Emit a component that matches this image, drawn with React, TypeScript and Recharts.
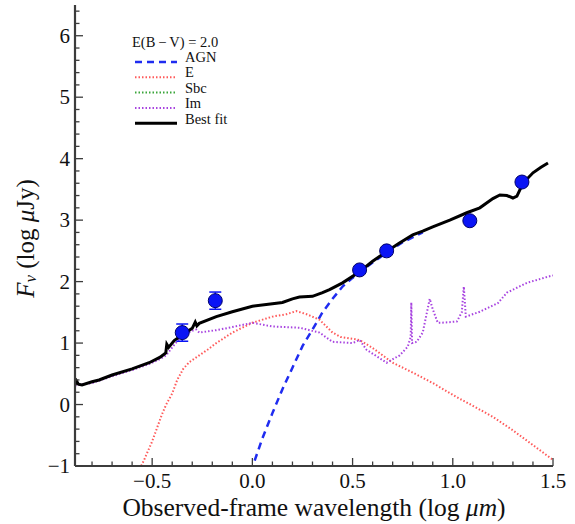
import React from 'react';
import {
  ComposedChart,
  Line,
  Scatter,
  ErrorBar,
  XAxis,
  YAxis,
  Label,
} from 'recharts';

// 观测数据点 [log λ, log Fν, 误差]
const photometry: [number, number, number?][] = [
  [-0.35, 1.17, 0.14],
  [-0.185, 1.69, 0.14],
  [0.535, 2.19],
  [0.67, 2.5],
  [1.085, 2.99],
  [1.345, 3.62],
];

// 各模板曲线 [log λ, log Fν]
const agnCurve: [number, number][] = [
  [-0.005, -1.1], [0.0, -1.02], [0.05, -0.55], [0.1, -0.14], [0.15, 0.25],
  [0.2, 0.6], [0.25, 0.95], [0.3, 1.22], [0.35, 1.5], [0.4, 1.72],
  [0.45, 1.92], [0.5, 2.06], [0.55, 2.19], [0.6, 2.31], [0.67, 2.47],
  [0.75, 2.64], [0.85, 2.8],
];

const eCurve: [number, number][] = [
  [-0.57, -1.1], [-0.54, -0.9], [-0.5, -0.6], [-0.45, -0.15], [-0.43, 0.0],
  [-0.4, 0.18], [-0.375, 0.4], [-0.345, 0.58], [-0.315, 0.69], [-0.265, 0.8],
  [-0.22, 0.9], [-0.18, 1.0], [-0.1, 1.17], [0.0, 1.33], [0.1, 1.43],
  [0.17, 1.47], [0.22, 1.52], [0.27, 1.47], [0.335, 1.38], [0.4, 1.17],
  [0.44, 1.1], [0.535, 1.05], [0.6, 0.92], [0.7, 0.68], [0.8, 0.52],
  [0.9, 0.35], [1.02, 0.12], [1.1, -0.02], [1.2, -0.2], [1.3, -0.42],
  [1.4, -0.66], [1.5, -0.9],
];

const imCurve: [number, number][] = [
  [-0.885, 0.31], [-0.8, 0.35], [-0.7, 0.46], [-0.6, 0.56], [-0.515, 0.66],
  [-0.46, 0.74], [-0.43, 0.8], [-0.39, 0.97], [-0.35, 1.12], [-0.3, 1.2],
  [-0.28, 1.22], [-0.265, 1.17], [-0.18, 1.21], [-0.1, 1.26], [0.0, 1.33],
  [0.1, 1.27], [0.235, 1.25], [0.335, 1.17], [0.4, 1.02], [0.5, 1.0],
  [0.535, 1.05], [0.57, 0.89], [0.67, 0.68], [0.735, 0.8], [0.775, 0.94],
  [0.79, 1.1], [0.793, 1.66], [0.797, 1.0], [0.82, 1.02], [0.85, 1.17],
  [0.885, 1.72], [0.9, 1.55], [0.925, 1.33], [0.94, 1.33], [1.02, 1.35],
  [1.045, 1.5], [1.055, 1.92], [1.065, 1.43], [1.135, 1.51], [1.225, 1.65],
  [1.27, 1.82], [1.37, 1.98], [1.475, 2.08], [1.5, 2.1],
];

const bestFitCurve: [number, number][] = [
  [-0.885, 0.32], [-0.877, 0.38], [-0.868, 0.33], [-0.85, 0.32], [-0.8, 0.37],
  [-0.765, 0.4], [-0.7, 0.48], [-0.6, 0.58], [-0.515, 0.68], [-0.46, 0.77],
  [-0.432, 0.84], [-0.427, 0.98], [-0.418, 0.93], [-0.39, 1.04], [-0.35, 1.13],
  [-0.3, 1.24], [-0.285, 1.34], [-0.277, 1.28], [-0.265, 1.32], [-0.18, 1.43],
  [-0.1, 1.51], [0.0, 1.6], [0.1, 1.64], [0.15, 1.66], [0.2, 1.72],
  [0.235, 1.75], [0.3, 1.76], [0.35, 1.82], [0.385, 1.87], [0.45, 1.98],
  [0.535, 2.16], [0.6, 2.33], [0.67, 2.49], [0.73, 2.62], [0.8, 2.76],
  [0.85, 2.82], [0.9, 2.89], [0.985, 3.0], [1.07, 3.12], [1.135, 3.2],
  [1.2, 3.35], [1.235, 3.41], [1.27, 3.4], [1.3, 3.36], [1.32, 3.39],
  [1.35, 3.6], [1.4, 3.77], [1.44, 3.86], [1.475, 3.93],
];

// 刻度
const xTicks = [-0.8, -0.7, -0.6, -0.5, -0.4, -0.3, -0.2, -0.1, 0, 0.1, 0.2, 0.3, 0.4,
  0.5, 0.6, 0.7, 0.8, 0.9, 1.0, 1.1, 1.2, 1.3, 1.4, 1.5];
const xMajor = [-0.5, 0, 0.5, 1.0, 1.5];
const yTicks = Array.from({ length: 38 }, (_, i) => Math.round((-1 + i * 0.2) * 10) / 10);
const yMajor = [-1, 0, 1, 2, 3, 4, 5, 6];

const legendTitle = 'E(B\u2009\u2212\u2009V) = 2.0';
const legendItems = [
  { name: 'AGN', color: '#1f2cf0', dash: '7 5', width: 2.5 },
  { name: 'E', color: '#ff5a5a', dash: '1.5 2', width: 2 },
  { name: 'Sbc', color: '#3aa53a', dash: '1.5 2', width: 2 },
  { name: 'Im', color: '#a844e0', dash: '1.5 2', width: 2 },
  { name: 'Best fit', color: '#000000', dash: undefined, width: 3 },
];

const toPts = (arr: [number, number][]) => arr.map(([x, y]) => ({ x, y }));

const FONT = '"Liberation Serif", "DejaVu Serif", serif';
const AXIS = '#3c3c3c';

const isIn = (v: number, list: number[]) => list.some((m) => Math.abs(m - v) < 1e-6);
const fmtNum = (v: number, digits: number) => {
  const s = Math.abs(v).toFixed(digits);
  return v < -1e-9 ? '\u2212' + s : s;
};

const BottomTick = (props: any) => {
  const { x, y, payload } = props;
  const major = isIn(payload.value, xMajor);
  return (
    <g>
      <line x1={x} x2={x} y1={y} y2={y - (major ? 8 : 4.5)} stroke={AXIS} strokeWidth={1.3} />
      {major && (
        <text x={x} y={y + 15} textAnchor="middle" dominantBaseline="central"
          fontFamily={FONT} fontSize={21} fill="#111">
          {fmtNum(payload.value, 1)}
        </text>
      )}
    </g>
  );
};

const TopTick = (props: any) => {
  const { x, y, payload } = props;
  const major = isIn(payload.value, xMajor);
  return <line x1={x} x2={x} y1={y} y2={y + (major ? 8 : 4.5)} stroke={AXIS} strokeWidth={1.3} />;
};

const LeftTick = (props: any) => {
  const { x, y, payload } = props;
  const major = isIn(payload.value, yMajor);
  return (
    <g>
      <line x1={x} x2={x + (major ? 8 : 4.5)} y1={y} y2={y} stroke={AXIS} strokeWidth={1.3} />
      {major && (
        <text x={x - 5} y={y} textAnchor="end" dominantBaseline="central"
          fontFamily={FONT} fontSize={21} fill="#111">
          {fmtNum(payload.value, 0)}
        </text>
      )}
    </g>
  );
};

const RightTick = (props: any) => {
  const { x, y, payload } = props;
  const major = isIn(payload.value, yMajor);
  return <line x1={x} x2={x - (major ? 8 : 4.5)} y1={y} y2={y} stroke={AXIS} strokeWidth={1.3} />;
};

const XTitle = (props: any) => {
  const vb = props.viewBox || { x: 75, y: 466, width: 478, height: 58 };
  return (
    <text x={vb.x + vb.width / 2} y={vb.y + 41} textAnchor="middle" dominantBaseline="central"
      fontFamily={FONT} fontSize={25.5} fill="#111">
      Observed-frame wavelength (log{'\u00a0'}
      <tspan fontStyle="italic">μm</tspan>)
    </text>
  );
};

const YTitle = (props: any) => {
  const vb = props.viewBox || { x: 0, y: 5, width: 75, height: 461 };
  const cx = vb.x + 25;
  const cy = vb.y + vb.height / 2 + 3;
  return (
    <text x={cx} y={cy} transform={`rotate(-90 ${cx} ${cy})`} textAnchor="middle"
      dominantBaseline="central" fontFamily={FONT} fontSize={25} fill="#111">
      <tspan fontStyle="italic">F</tspan>
      <tspan fontStyle="italic" fontSize={17} dy={5}>ν</tspan>
      <tspan dy={-5}> (log </tspan>
      <tspan fontStyle="italic">μ</tspan>
      <tspan>Jy)</tspan>
    </text>
  );
};

const Dot = (props: any) => {
  const { cx, cy } = props;
  if (cx == null || cy == null) return null;
  return <circle cx={cx} cy={cy} r={7} fill="#0a14f5" stroke="#00006a" strokeWidth={1} />;
};

const LegendBox = () => (
  <svg width={150} height={110} style={{ position: 'absolute', left: 125, top: 30 }}>
    <text x={7} y={12} dominantBaseline="central" fontFamily={FONT} fontSize={14.5} fill="#111">
      {legendTitle}
    </text>
    {legendItems.map((it, i) => (
      <g key={it.name}>
        <line x1={10} x2={52} y1={32 + i * 15.3} y2={32 + i * 15.3} stroke={it.color}
          strokeWidth={it.width} strokeDasharray={it.dash} />
        <text x={60} y={26.5 + i * 15.5} dominantBaseline="central" fontFamily={FONT}
          fontSize={14.5} fill="#111">
          {it.name}
        </text>
      </g>
    ))}
  </svg>
);

export default function App() {
  const points = photometry.map(([x, y, err]) => ({ x, y, err }));
  const xDomain: [number, number] = [-0.885, 1.5];
  const yDomain: [number, number] = [-1, 6.5];

  return (
    <div style={{ position: 'absolute', left: 0, top: 0, width: 575, height: 524, background: '#fff' }}>
      <ComposedChart width={575} height={524} margin={{ top: 5, right: 22, bottom: 0, left: 0 }}>
        <XAxis dataKey="x" type="number" domain={xDomain} allowDataOverflow ticks={xTicks}
          interval={0} height={58} tickSize={0} tickMargin={0} tick={<BottomTick />}
          axisLine={{ stroke: AXIS, strokeWidth: 2.2 }} tickLine={false}>
          <Label content={<XTitle />} />
        </XAxis>
        <XAxis xAxisId="top" orientation="top" dataKey="x" type="number" domain={xDomain}
          allowDataOverflow ticks={xTicks} interval={0} height={0} tickSize={0} tickMargin={0}
          tick={<TopTick />} axisLine={{ stroke: AXIS, strokeWidth: 2.2 }} tickLine={false} />
        <YAxis dataKey="y" type="number" domain={yDomain} allowDataOverflow ticks={yTicks}
          interval={0} width={75} tickSize={0} tickMargin={0} tick={<LeftTick />}
          axisLine={{ stroke: AXIS, strokeWidth: 2.2 }} tickLine={false}>
          <Label content={<YTitle />} />
        </YAxis>
        <YAxis yAxisId="right" orientation="right" dataKey="y" type="number" domain={yDomain}
          allowDataOverflow ticks={yTicks} interval={0} width={0} tickSize={0} tickMargin={0}
          tick={<RightTick />} axisLine={{ stroke: AXIS, strokeWidth: 2.2 }} tickLine={false} />

        <Line data={toPts(agnCurve)} dataKey="y" type="linear" stroke="#1f2cf0" strokeWidth={2.5}
          strokeDasharray="7 5" dot={false} activeDot={false} isAnimationActive={false} />
        <Line data={toPts(eCurve)} dataKey="y" type="linear" stroke="#ff5a5a" strokeWidth={2}
          strokeDasharray="1.5 2" dot={false} activeDot={false} isAnimationActive={false} />
        <Line data={toPts(imCurve)} dataKey="y" type="linear" stroke="#a844e0" strokeWidth={2}
          strokeDasharray="1.5 2" dot={false} activeDot={false} isAnimationActive={false} />
        <Line data={toPts(bestFitCurve)} dataKey="y" type="linear" stroke="#000" strokeWidth={3}
          dot={false} activeDot={false} isAnimationActive={false} />
        <Scatter data={points} dataKey="y" shape={<Dot />} isAnimationActive={false}>
          <ErrorBar dataKey="err" direction="y" width={6} stroke="#0a14f5" strokeWidth={1.5} />
        </Scatter>
      </ComposedChart>
      <LegendBox />
    </div>
  );
}
